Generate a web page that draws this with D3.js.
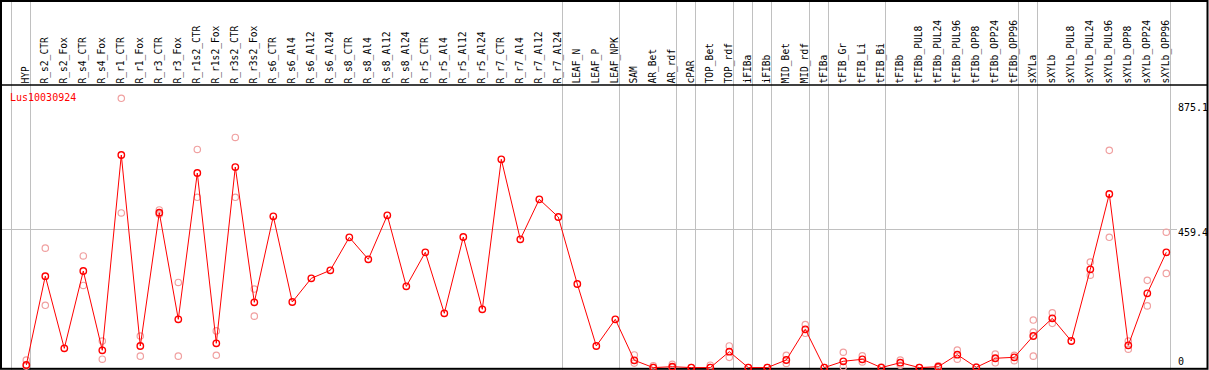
<!DOCTYPE html>
<html>
<head>
<meta charset="utf-8">
<script src="https://cdn.jsdelivr.net/npm/d3@7"></script>
<style>
  html, body { margin: 0; padding: 0; background: #fff; }
  svg { display: block; }
  text { font-family: "DejaVu Sans Mono", "Liberation Mono", monospace; }
</style>
</head>
<body>
<div id="chart"></div>
<script>
const title = "Lus10030924";
const categories = ["HYP","R_s2_CTR","R_s2_Fox","R_s4_CTR","R_s4_Fox","R_r1_CTR","R_r1_Fox","R_r3_CTR","R_r3_Fox","R_r1s2_CTR","R_r1s2_Fox","R_r3s2_CTR","R_r3s2_Fox","R_s6_CTR","R_s6_Al4","R_s6_Al12","R_s6_Al24","R_s8_CTR","R_s8_Al4","R_s8_Al12","R_s8_Al24","R_r5_CTR","R_r5_Al4","R_r5_Al12","R_r5_Al24","R_r7_CTR","R_r7_Al4","R_r7_Al12","R_r7_Al24","LEAF_N","LEAF_P","LEAF_NPK","SAM","AR_Bet","AR_rdf","cPAR","TOP_Bet","TOP_rdf","iFIBa","iFIBb","MID_Bet","MID_rdf","tFIBa","tFIB_Gr","tFIB_Li","tFIB_Bi","tFIBb","tFIBb_PUL8","tFIBb_PUL24","tFIBb_PUL96","tFIBb_OPP8","tFIBb_OPP24","tFIBb_OPP96","sXYLa","sXYLb","sXYLb_PUL8","sXYLb_PUL24","sXYLb_PUL96","sXYLb_OPP8","sXYLb_OPP24","sXYLb_OPP96"];
const means = [8.6,304,64,321,57.5,706.6,71.8,514.8,160.5,646.7,80.8,666.6,217,502.8,218,296.8,323.4,433,360,506,270,383.2,180.5,434,193.8,692.3,426.4,559.3,500.5,277.9,71.8,160.5,24.3,0,3,0,0,52.8,0,0,25.3,127.3,0,21,27.6,0,16.3,0,3,42.9,1,31,34.2,105,163.8,88.4,326.7,577,74.1,247,383.2];
const replicates = [[25,5],[397,207],[],[371,273],[88,28],[514,895],[105,38],[524,510],[283,38],[725,566],[122,41],[765,566],[261,171],[],[],[],[],[],[],[],[],[],[],[],[],[],[],[],[],[],[],[],[42,15],[6,0],[11,0],[0],[8,0],[72,34],[0],[0],[41,14],[143,114],[0],[51,3],[39,19],[2],[25,8],[0],[6,0],[58,28],[2],[45,16],[41,23],[158,118,38],[182,147],[],[351,307],[722,433],[88,61],[290,205],[450,313]];
const separatorAfter = ["HYP","R_r7_Al24","LEAF_NPK","AR_rdf","cPAR","TOP_rdf","iFIBa","iFIBb","MID_rdf","tFIBa","tFIB_Bi","tFIBb_OPP96","sXYLa","sXYLb_OPP96"];
const tickValues = [0, 459.4, 875.1];
const tickLabels = ["0", "459.4", "875.1"];

const W = 1209, H = 370;
const svg = d3.select("#chart").append("svg").attr("width", W).attr("height", H);

const x = d3.scalePoint().domain(categories).range([26.3, 1166.3]);
const y = d3.scaleLinear().domain([0, 875.1]).range([367.6, 104.3]);
const grey = "#c0c0c0";

// horizontal grid line
svg.append("line").attr("x1", 2).attr("x2", 1177)
  .attr("y1", Math.round(y(459.4)) + 0.5).attr("y2", Math.round(y(459.4)) + 0.5)
  .attr("stroke", grey).attr("stroke-width", 1);

// vertical separators
const sepX = [x(categories[0]) - 15].concat(separatorAfter.map(c => x(c) + 4));
svg.selectAll("line.sep").data(sepX).enter().append("line").attr("class", "sep")
  .attr("x1", d => Math.round(d) + 0.5).attr("x2", d => Math.round(d) + 0.5)
  .attr("y1", 0).attr("y2", H)
  .attr("stroke", grey).attr("stroke-width", 1);

// borders
svg.append("rect").attr("x", 1).attr("y", 1).attr("width", 1206.5).attr("height", 367.8)
  .attr("fill", "none").attr("stroke", "#000").attr("stroke-width", 2);
svg.append("line").attr("x1", 0).attr("x2", 1208).attr("y1", 85).attr("y2", 85)
  .attr("stroke", "#000").attr("stroke-width", 1.6);

// column labels
svg.selectAll("text.cat").data(categories).enter().append("text").attr("class", "cat")
  .attr("transform", d => `translate(${x(d) + 2.5},83.5) rotate(-90)`)
  .attr("font-size", "9.6px").attr("fill", "#000").text(d => d);

// title
svg.append("text").attr("x", 10).attr("y", 101).attr("font-size", "10px")
  .attr("fill", "#ff0000").text(title);

// y tick labels
const tickY = [364.5, y(459.4) + 7, y(875.1) + 7];
svg.selectAll("text.tick").data(tickValues).enter().append("text").attr("class", "tick")
  .attr("x", 1178).attr("y", (d, i) => tickY[i]).attr("font-size", "10px")
  .attr("fill", "#000").text((d, i) => tickLabels[i]);

// replicate points
const repPts = [];
categories.forEach((c, i) => replicates[i].forEach(v => repPts.push({c, v})));
svg.selectAll("circle.rep").data(repPts).enter().append("circle").attr("class", "rep")
  .attr("cx", d => x(d.c)).attr("cy", d => y(d.v)).attr("r", 3.2)
  .attr("fill", "none").attr("stroke", "#f0a0a0").attr("stroke-width", 1.2);

// mean line
const line = d3.line().x((d, i) => x(categories[i])).y(d => y(d));
svg.append("path").datum(means).attr("d", line)
  .attr("fill", "none").attr("stroke", "#ff0000").attr("stroke-width", 1);

// mean points
svg.selectAll("circle.mean").data(means).enter().append("circle").attr("class", "mean")
  .attr("cx", (d, i) => x(categories[i])).attr("cy", d => y(d)).attr("r", 3.2)
  .attr("fill", "none").attr("stroke", "#ff0000").attr("stroke-width", 1.4);
</script>
</body>
</html>
